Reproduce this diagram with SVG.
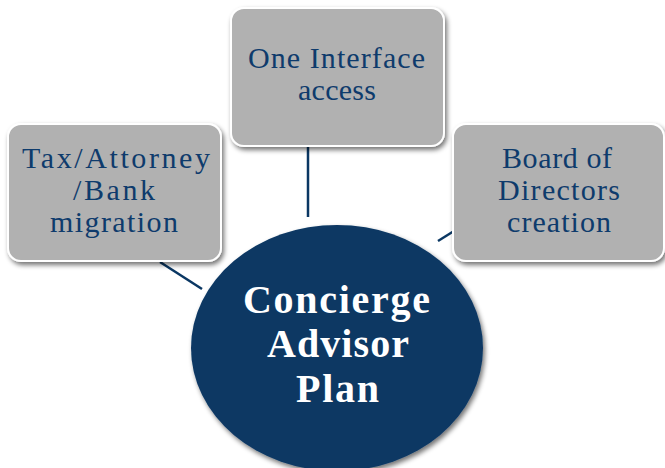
<svg xmlns="http://www.w3.org/2000/svg" width="665" height="468" viewBox="0 0 665 468">
<defs>
<filter id="sh" x="-10%" y="-10%" width="125%" height="130%">
<feGaussianBlur in="SourceAlpha" stdDeviation="2.5"/>
<feOffset dx="2" dy="3" result="b"/>
<feComponentTransfer><feFuncA type="linear" slope="0.55"/></feComponentTransfer>
<feMerge><feMergeNode/><feMergeNode in="SourceGraphic"/></feMerge>
</filter>
</defs>
<style>
.box{fill:#b1b1b1;stroke:#ffffff;stroke-width:2;filter:url(#sh)}
.lbl{font-family:'Liberation Serif','Times New Roman',Times,serif;font-size:30px;fill:#0e3b6c;text-anchor:middle}
.hub{fill:#0a3763;filter:url(#sh)}
.hubt{font-family:'Liberation Serif','Times New Roman',Times,serif;font-size:40px;font-weight:bold;fill:#ffffff;text-anchor:middle}
.con{stroke:#0a3763;stroke-width:2.5;fill:none}
</style>
<rect width="665" height="468" fill="#ffffff"/>
<g id="connectors">
<line class="con" x1="308" y1="146" x2="308" y2="217"/>
<line class="con" x1="160" y1="262" x2="202" y2="289"/>
<line class="con" x1="438" y1="241" x2="454" y2="231"/>
</g>
<g id="node-tax">
<rect class="box" x="8" y="124" width="213" height="137" rx="13"/>
<text class="lbl" x="116" y="168" textLength="188" lengthAdjust="spacing">Tax/Attorney</text>
<text class="lbl" x="114" y="200" textLength="82" lengthAdjust="spacing">/Bank</text>
<text class="lbl" x="114" y="232" textLength="128" lengthAdjust="spacing">migration</text>
</g>
<g id="node-interface">
<rect class="box" x="231" y="8" width="213" height="138" rx="13"/>
<text class="lbl" x="336.5" y="68" textLength="177" lengthAdjust="spacing">One Interface</text>
<text class="lbl" x="337" y="100" textLength="78" lengthAdjust="spacing">access</text>
</g>
<g id="node-board">
<rect class="box" x="453" y="124" width="211" height="137" rx="13"/>
<text class="lbl" x="557" y="168" textLength="110" lengthAdjust="spacing">Board of</text>
<text class="lbl" x="559" y="200" textLength="122" lengthAdjust="spacing">Directors</text>
<text class="lbl" x="559" y="232" textLength="104" lengthAdjust="spacing">creation</text>
</g>
<g id="node-hub">
<ellipse class="hub" cx="337" cy="348" rx="146" ry="123"/>
<text class="hubt" x="336.5" y="313" textLength="187" lengthAdjust="spacing">Concierge</text>
<text class="hubt" x="338" y="357" textLength="142" lengthAdjust="spacing">Advisor</text>
<text class="hubt" x="337.5" y="402" textLength="83" lengthAdjust="spacing">Plan</text>
</g>
</svg>
